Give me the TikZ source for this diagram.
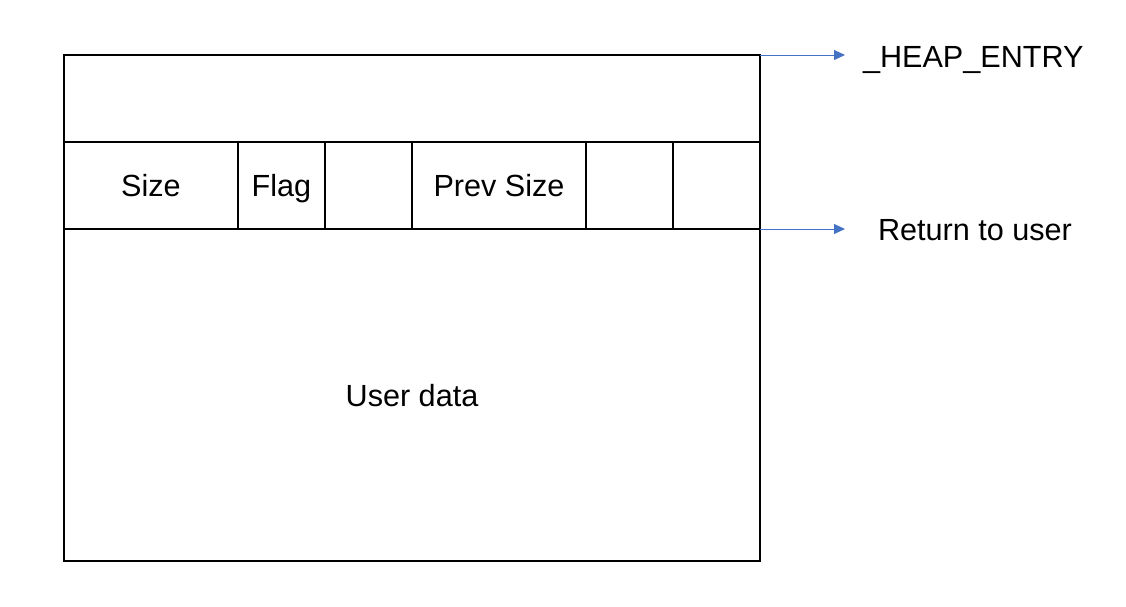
\documentclass[tikz,border=0pt]{standalone}
\usepackage{fontspec}
\setmainfont{Liberation Sans}
\usetikzlibrary{arrows.meta,positioning}
\definecolor{arrowblue}{HTML}{4472C4}
\begin{document}
\begin{tikzpicture}[x=0.5pt,y=-0.5pt,line width=1pt,font=\fontsize{15.3}{18}\selectfont,
  cell/.style={rectangle,draw=black,inner sep=0pt,outer sep=0pt,minimum height=43.5pt,
    text height=11pt,text depth=0pt},
  pointer/.style={draw=arrowblue,line width=0.5pt,-{Triangle[length=5.5pt,width=5pt]}}]
\useasboundingbox (0,0) rectangle (1126,606);
%Cell Coordinates
\node at (412,98.5) [cell,minimum width=348pt] (Header) {};
\node at (151,185.5) [cell,minimum width=87pt] (Size) {Size};
\node at (281.5,185.5) [cell,minimum width=43.5pt] (Flag) {Flag};
\node at (368.5,185.5) [cell,minimum width=43.5pt] (Blank1) {};
\node at (499,185.5) [cell,minimum width=87pt] (PrevSize) {Prev Size};
\node at (629.5,185.5) [cell,minimum width=43.5pt] (Blank2) {};
\node at (716.5,185.5) [cell,minimum width=43.5pt] (Blank3) {};
\node at (412,395) [cell,minimum width=348pt,minimum height=166pt] (UserData) {User data};
%Pointers
\coordinate (HeapTip) at (845,55);
\coordinate (UserTip) at (845,229);
\draw [pointer] (Header.north east) -- (HeapTip);
\draw [pointer] (UserData.north east) -- (UserTip);
%Pointer Labels
\node [anchor=base west,inner sep=0pt] at (862,67) (HeapLabel) {\_HEAP\_ENTRY};
\node [anchor=base west,inner sep=0pt] at (877,240) (ReturnLabel) {Return to user};
\end{tikzpicture}
\end{document}
